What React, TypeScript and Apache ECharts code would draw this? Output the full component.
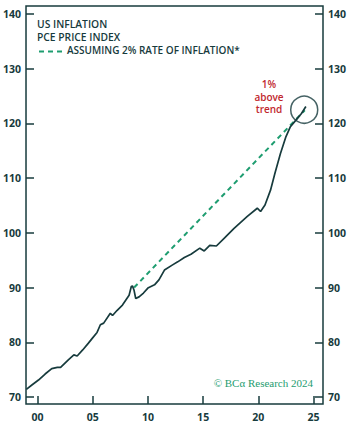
import React, { useEffect, useRef } from "react";
import * as echarts from "echarts";

const pceYears = [1999.0, 1999.5, 2000.1, 2000.7, 2001.3, 2001.8, 2002.1, 2002.8, 2003.3, 2003.6, 2004.1, 2004.6, 2005.0, 2005.4, 2005.7, 2006.0, 2006.6, 2006.8, 2007.2, 2007.7, 2008.3, 2008.5, 2008.6, 2008.75, 2008.9, 2009.2, 2009.6, 2010.0, 2010.6, 2011.0, 2011.5, 2012.2, 2012.7, 2013.3, 2013.9, 2014.7, 2015.1, 2015.6, 2016.2, 2016.9, 2017.8, 2018.4, 2019.0, 2019.9, 2020.2, 2020.6, 2021.1, 2021.5, 2022.0, 2022.5, 2022.9, 2023.4, 2023.9, 2024.3];
const pceValues = [71.4, 72.2, 73.1, 74.2, 75.2, 75.4, 75.4, 76.8, 77.7, 77.5, 78.6, 79.8, 80.8, 81.8, 83.2, 83.5, 85.3, 84.9, 85.8, 86.8, 88.6, 90.2, 90.3, 89.5, 88.0, 88.3, 89.0, 89.9, 90.5, 91.4, 93.2, 94.1, 94.7, 95.5, 96.1, 97.2, 96.7, 97.7, 97.6, 99.0, 100.8, 101.9, 103.0, 104.5, 103.9, 105.1, 107.8, 110.9, 114.5, 117.6, 119.4, 120.6, 121.8, 123.1];

const trendYears = [2008.75, 2024.2];
const trendValues = [90.0, 122.4];

const circleYear = 2024.15;
const circleValue = 122.5;

const xTicks = [2000, 2005, 2010, 2015, 2020, 2025];
const yTicks = [70, 80, 90, 100, 110, 120, 130, 140];

const annotationLines = ["1%", "above", "trend"];

const DARK = "#173b3d";
const GREEN = "#1e9d70";
const RED = "#c1272d";
const FONT = "'Open Sans', sans-serif";

export default function App() {
  const ref = useRef<HTMLDivElement>(null);
  useEffect(() => {
    document.body.style.margin = "0";
    const chart = echarts.init(ref.current!, null, { renderer: "svg" });
    const yAxisBase = (pos: "left" | "right") => ({
      type: "value" as const,
      position: pos,
      min: 68.72,
      max: 141.46,
      axisLine: { show: false },
      splitLine: { show: false },
      axisTick: {
        show: true,
        inside: true,
        length: 8,
        lineStyle: { color: DARK, width: 1.5 },
        customValues: yTicks,
      },
      axisLabel: {
        show: true,
        margin: 5,
        color: DARK,
        fontFamily: FONT,
        fontWeight: 700,
        fontSize: 10.5,
        customValues: yTicks,
      },
    });
    chart.setOption({
      animation: false,
      grid: {
        left: 26,
        right: 28,
        top: 6,
        bottom: 21,
        show: true,
        borderColor: DARK,
        borderWidth: 1.5,
        backgroundColor: "transparent",
      },
      xAxis: {
        type: "value",
        min: 1998.97,
        max: 2025.85,
        axisLine: { show: false },
        splitLine: { show: false },
        axisTick: {
          show: true,
          inside: true,
          length: 8,
          lineStyle: { color: DARK, width: 1.5 },
          customValues: xTicks,
        },
        axisLabel: {
          margin: 7,
          color: DARK,
          fontFamily: FONT,
          fontWeight: 700,
          fontSize: 10.5,
          customValues: xTicks,
          formatter: (v: number) => String(Math.round(v) % 100).padStart(2, "0"),
        },
      },
      yAxis: [yAxisBase("left"), yAxisBase("right")],
      series: [
        {
          type: "line",
          data: trendYears.map((y, i) => [y, trendValues[i]]),
          symbol: "none",
          lineStyle: { color: GREEN, width: 2, type: [5, 4] },
          z: 2,
        },
        {
          type: "line",
          data: pceYears.map((y, i) => [y, pceValues[i]]),
          symbol: "none",
          lineStyle: { color: DARK, width: 1.7 },
          z: 3,
        },
        {
          type: "scatter",
          data: [[circleYear, circleValue]],
          symbol: "circle",
          symbolSize: 27,
          itemStyle: { color: "transparent", borderColor: DARK, borderWidth: 1.5 },
          z: 4,
        },
      ],
      graphic: [
        {
          type: "text",
          left: 37,
          top: 19,
          style: {
            text: "US INFLATION",
            fill: DARK,
            font: `600 10.3px ${FONT}`,
          },
        },
        {
          type: "text",
          left: 37,
          top: 31.5,
          style: {
            text: "PCE PRICE INDEX",
            fill: DARK,
            font: `600 10.3px ${FONT}`,
          },
        },
        {
          type: "line",
          shape: { x1: 39, y1: 51.5, x2: 62, y2: 51.5 },
          style: { stroke: GREEN, lineWidth: 2, lineDash: [5, 4] },
        },
        {
          type: "text",
          left: 67,
          top: 44.5,
          style: {
            text: "ASSUMING 2% RATE OF INFLATION*",
            fill: DARK,
            font: `600 10px ${FONT}`,
          },
        },
        ...annotationLines.map((t, i) => ({
          type: "text",
          x: 269,
          y: 84 + i * 12.6,
          style: {
            text: t,
            fill: RED,
            font: `600 10px ${FONT}`,
            align: "center",
            verticalAlign: "middle",
          },
        })),
        {
          type: "text",
          x: 313,
          y: 377,
          style: {
            text: "© BCα Research 2024",
            fill: GREEN,
            font: "11px 'Liberation Serif', serif",
            align: "right",
          },
        },
      ],
    });
    return () => chart.dispose();
  }, []);
  return <div ref={ref} style={{ width: 351, height: 425, position: "absolute", left: 0, top: 0 }} />;
}
